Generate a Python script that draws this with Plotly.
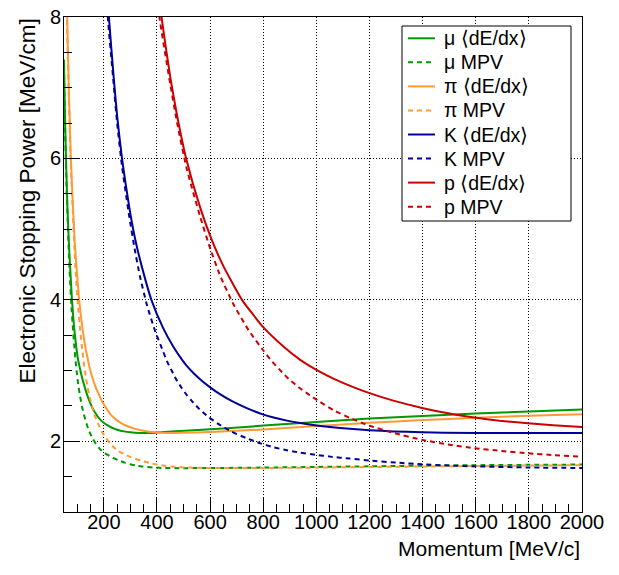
import plotly.graph_objects as go

# ---------------- data ----------------
# momentum [MeV/c] and stopping power [MeV/cm]
mu_mean_p = [50, 53.6, 57.6, 63, 68, 73, 80, 88, 96, 103, 108, 114, 119, 128, 135, 145, 157, 169, 180, 190,
             202, 213, 225, 241, 257, 276, 299, 317, 370, 400, 538, 664, 801, 1000, 1200, 1400, 1600, 1800,
             2000]
mu_mean_v = [7.4, 6.6, 5.98, 5.30, 4.84, 4.47, 4.0, 3.61, 3.34, 3.155, 3.063, 2.963, 2.886, 2.766, 2.681,
             2.575, 2.472, 2.392, 2.336, 2.292, 2.254, 2.227, 2.202, 2.176, 2.157, 2.140, 2.127, 2.121,
             2.117, 2.124, 2.157, 2.185, 2.222, 2.274, 2.322, 2.359, 2.393, 2.421, 2.45]

mu_mpv_p = [50, 53.6, 57.6, 63.4, 67.7, 72, 77.6, 83.9, 90.2, 93.8, 97.9, 100.8, 105, 110, 113.5, 120, 127,
            135, 145, 157, 169, 180, 190, 201, 213, 225, 241, 257, 281, 299, 321, 342, 385, 428, 500, 600,
            800, 1000, 1200, 1400, 1600, 1800, 2000]
mu_mpv_v = [7.2, 6.5, 5.87, 5.17, 4.72, 4.33, 3.93, 3.57, 3.28, 3.13, 2.98, 2.885, 2.765, 2.65, 2.575, 2.455,
            2.35, 2.245, 2.14, 2.045, 1.97, 1.915, 1.873, 1.84, 1.81, 1.783, 1.755, 1.728, 1.695, 1.675,
            1.657, 1.645, 1.63, 1.622, 1.62, 1.622, 1.628, 1.637, 1.646, 1.655, 1.662, 1.667, 1.671]

pi_mean_p = [50, 56, 62, 67, 71, 76, 84, 90, 97, 107, 119, 130, 140, 145, 152, 158, 169, 179, 192, 208, 223,
             237, 251, 267, 281, 297, 318, 339, 364, 395, 419, 489, 600, 800, 1000, 1200, 1400, 1600, 1800,
             2000]
pi_mean_v = [11.0, 9.3, 8.0, 7.15, 6.6, 5.98, 5.30, 4.84, 4.47, 4.0, 3.61, 3.34, 3.155, 3.063, 2.963, 2.886,
             2.766, 2.681, 2.575, 2.472, 2.392, 2.336, 2.292, 2.254, 2.227, 2.202, 2.176, 2.157, 2.140,
             2.127, 2.121, 2.119, 2.133, 2.167, 2.215, 2.262, 2.300, 2.333, 2.36, 2.383]

pi_mpv_p = [50, 56, 61.4, 67, 71, 76, 84, 89.5, 95, 102.4, 111, 119, 124, 129.4, 133, 139, 145, 150, 158,
            167.5, 178.5, 192, 208, 223, 237, 251, 265, 281, 297, 318, 339, 371, 395, 424, 452, 508, 600,
            800, 1000, 1200, 1400, 1600, 1800, 2000]
pi_mpv_v = [10.5, 8.9, 7.9, 7.05, 6.5, 5.87, 5.17, 4.72, 4.33, 3.93, 3.57, 3.28, 3.13, 2.98, 2.885, 2.765,
            2.65, 2.575, 2.455, 2.35, 2.245, 2.14, 2.045, 1.97, 1.915, 1.873, 1.84, 1.81, 1.783, 1.755,
            1.728, 1.695, 1.675, 1.657, 1.645, 1.63, 1.623, 1.623, 1.628, 1.636, 1.644, 1.651, 1.657, 1.662]

k_mean_p = [198, 219, 237, 250, 269, 296, 319, 343, 379, 422, 461, 494, 513, 538, 560, 599, 631, 679, 736,
            790, 839, 889, 945, 995, 1052, 1126, 1200, 1289, 1397, 1481, 1728, 2000]
k_mean_v = [9.3, 8.0, 7.15, 6.6, 5.98, 5.30, 4.84, 4.47, 4.0, 3.61, 3.34, 3.155, 3.063, 2.963, 2.886, 2.766,
            2.681, 2.575, 2.472, 2.392, 2.336, 2.292, 2.254, 2.227, 2.202, 2.176, 2.157, 2.140, 2.127, 2.121,
            2.117, 2.118]

k_mpv_p = [198, 217, 237, 250, 269, 296, 316, 336, 362, 392, 422, 438, 458, 471, 491, 513, 530, 560, 592,
           631, 679, 736, 790, 839, 889, 938, 995, 1052, 1126, 1200, 1313, 1397, 1501, 1600, 1797, 2000]
k_mpv_v = [8.9, 7.9, 7.05, 6.5, 5.87, 5.17, 4.72, 4.33, 3.93, 3.57, 3.28, 3.13, 2.98, 2.885, 2.765, 2.65,
           2.575, 2.455, 2.35, 2.245, 2.14, 2.045, 1.97, 1.915, 1.873, 1.84, 1.81, 1.783, 1.755, 1.728,
           1.695, 1.675, 1.657, 1.645, 1.63, 1.622]

p_mean_p = [375, 417, 450, 476, 511, 563, 607, 651, 720, 801, 876, 938, 976, 1023, 1064, 1139, 1200, 1290,
            1398, 1501, 1595, 1689, 1797, 1891, 2000]
p_mean_v = [9.3, 8.0, 7.15, 6.6, 5.98, 5.30, 4.84, 4.47, 4.0, 3.61, 3.34, 3.155, 3.063, 2.963, 2.886, 2.766,
            2.681, 2.575, 2.472, 2.392, 2.336, 2.292, 2.254, 2.227, 2.202]

p_mpv_p = [375, 413, 450, 476, 511, 563, 601, 639, 689, 745, 801, 833, 870, 895, 933, 976, 1008, 1064, 1126,
           1200, 1290, 1398, 1501, 1595, 1689, 1797, 1891, 2000]
p_mpv_v = [8.9, 7.9, 7.05, 6.5, 5.87, 5.17, 4.72, 4.33, 3.93, 3.57, 3.28, 3.13, 2.98, 2.885, 2.765, 2.65,
           2.57, 2.44, 2.33, 2.22, 2.12, 2.02, 1.952, 1.903, 1.866, 1.83, 1.805, 1.78]

series_names = ["μ ⟨dE/dx⟩", "μ MPV", "π ⟨dE/dx⟩", "π MPV", "K ⟨dE/dx⟩", "K MPV", "p ⟨dE/dx⟩", "p MPV"]

x_ticks = [200, 400, 600, 800, 1000, 1200, 1400, 1600, 1800, 2000]
y_ticks = [2, 4, 6, 8]

# ---------------- styling ----------------
GREEN = "#009900"
ORANGE = "#ff9933"
BLUE = "#000099"
RED = "#cc0000"
DASH = "5px,4px"
FONT = "Liberation Sans, Arial, Helvetica, sans-serif"

series = [
    (mu_mean_p, mu_mean_v, GREEN, "solid"),
    (mu_mpv_p, mu_mpv_v, GREEN, DASH),
    (pi_mean_p, pi_mean_v, ORANGE, "solid"),
    (pi_mpv_p, pi_mpv_v, ORANGE, DASH),
    (k_mean_p, k_mean_v, BLUE, "solid"),
    (k_mpv_p, k_mpv_v, BLUE, DASH),
    (p_mean_p, p_mean_v, RED, "solid"),
    (p_mpv_p, p_mpv_v, RED, DASH),
]

fig = go.Figure()
for (xs, ys, col, dash), name in zip(series, series_names):
    fig.add_trace(go.Scatter(
        x=xs, y=ys, mode="lines", name=name, showlegend=False,
        line=dict(color=col, width=2, dash=dash, shape="spline", smoothing=0.5),
    ))

W, H = 619, 575
OFF = 0  # page body margin removed by the post script below
# plot area in screen pixels: x 64..582, y 17..512
SX0, SX1, SY0, SY1 = 64, 582, 17, 512
ML, MT = SX0 - OFF, SY0 - OFF
MR, MB = W - (SX1 - OFF), H - (SY1 - OFF)
PW, PH = SX1 - SX0, SY1 - SY0


def px_x(px):
    return (px - SX0) / PW


def px_y(py):
    return (SY1 - py) / PH


axis_common = dict(
    showline=True, linecolor="black", linewidth=1, mirror=True,
    ticks="inside", tickcolor="black", tickwidth=1, ticklen=15,
    showgrid=True, gridcolor="black", gridwidth=1, griddash="1px,2px",
    zeroline=False, ticklabeloverflow="allow",
    tickfont=dict(family=FONT, size=20, color="black"),
)

fig.update_layout(
    width=W, height=H,
    margin=dict(l=ML, r=MR, t=MT, b=MB, pad=0, autoexpand=False),
    paper_bgcolor="white", plot_bgcolor="white",
    showlegend=False,
    xaxis=dict(range=[50, 2000], tickmode="array", tickvals=x_ticks,
               ticktext=[str(t) for t in x_ticks], ticklabelstandoff=-8,
               minor=dict(dtick=50, tick0=0, ticks="inside", ticklen=8, tickcolor="black",
                          showgrid=False),
               **axis_common),
    yaxis=dict(range=[1, 8], tickmode="array", tickvals=y_ticks,
               ticktext=[str(t) for t in y_ticks], ticklabelstandoff=-2,
               minor=dict(dtick=0.5, tick0=0, ticks="inside", ticklen=8, tickcolor="black",
                          showgrid=False),
               **axis_common),
)

annotations = [
    dict(text="Momentum [MeV/c]", xref="paper", yref="paper", x=1.0, y=px_y(548),
         xanchor="right", yanchor="middle", showarrow=False,
         font=dict(family=FONT, size=21, color="black")),
    dict(text="Electronic Stopping Power [MeV/cm]", xref="paper", yref="paper",
         x=px_x(27), y=1.0, xanchor="center", yanchor="top", textangle=-90, showarrow=False,
         font=dict(family=FONT, size=22.5, color="black")),
]

# legend box drawn in the ROOT TLegend style
shapes = [dict(type="rect", xref="paper", yref="paper",
               x0=px_x(402), x1=px_x(571), y0=px_y(221), y1=px_y(26),
               line=dict(color="black", width=1), fillcolor="white", layer="above")]
row0, step = 38.3, 24.05
for i, ((xs, ys, col, dash), name) in enumerate(zip(series, series_names)):
    yc = row0 + step * i
    shapes.append(dict(type="line", xref="paper", yref="paper",
                       x0=px_x(408), x1=px_x(435), y0=px_y(yc), y1=px_y(yc),
                       line=dict(color=col, width=2, dash=dash), layer="above"))
    annotations.append(dict(text=name, xref="paper", yref="paper", x=px_x(442), y=px_y(yc),
                            xanchor="left", yanchor="middle", showarrow=False,
                            font=dict(family=FONT, size=19.5, color="black")))

fig.update_layout(shapes=shapes, annotations=annotations)

fig.write_html("out.html", config={"displayModeBar": False},
               post_script="document.body.style.margin='0';document.body.style.overflow='hidden';")
